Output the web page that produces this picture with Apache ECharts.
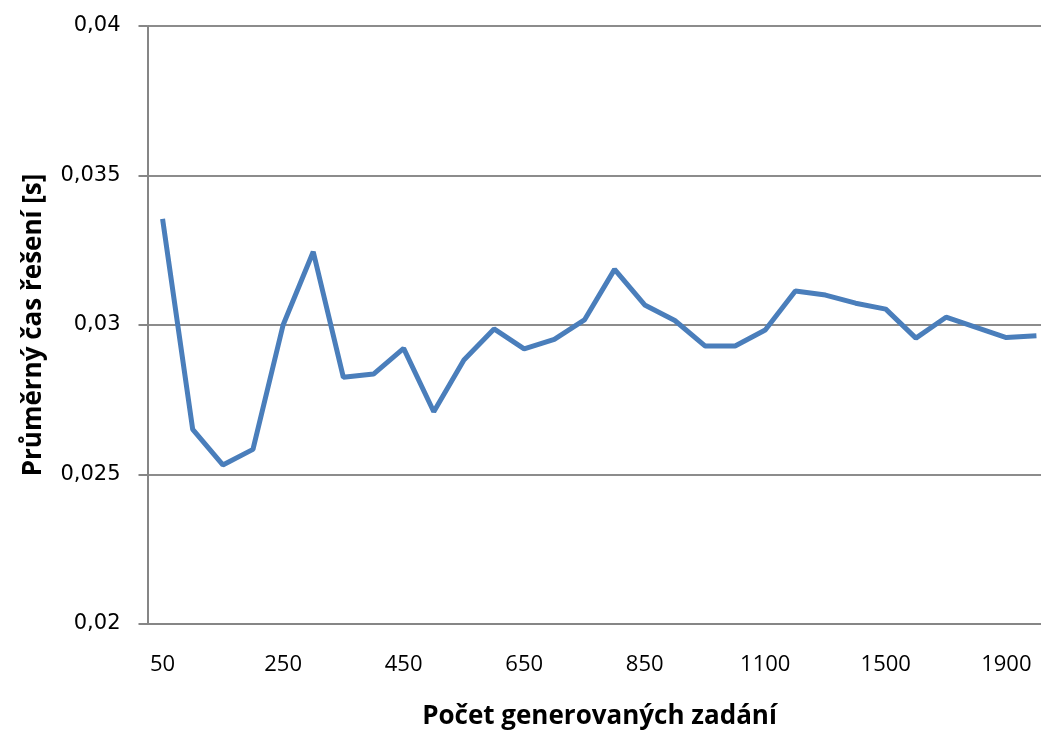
<!DOCTYPE html>
<html>
<head>
<meta charset="utf-8">
<script src="https://cdn.jsdelivr.net/npm/echarts@6/dist/echarts.min.js"></script>
<style>
  html, body { margin: 0; padding: 0; background: #fff; }
  #chart { width: 1041px; height: 736px; }
</style>
</head>
<body>
<div id="chart"></div>
<script>
// x categories: number of generated tasks
const counts = [
  50, 100, 150, 200, 250, 300, 350, 400, 450, 500,
  550, 600, 650, 700, 750, 800, 850, 900, 950, 1000,
  1100, 1200, 1300, 1400, 1500, 1600, 1700, 1800, 1900, 2000
];
// average solve time [s]
const avgTime = [
  0.03355, 0.02651, 0.02532, 0.02584, 0.0300, 0.03245, 0.02825, 0.02836, 0.02922, 0.0271,
  0.02883, 0.02987, 0.0292, 0.02952, 0.03017, 0.03186, 0.03067, 0.03015, 0.0293, 0.0293,
  0.02983, 0.03114, 0.0310, 0.03073, 0.03053, 0.02956, 0.03026, 0.02992, 0.02958, 0.02964
];
const yTicks = { min: 0.02, max: 0.04, step: 0.005 };

const myChart = echarts.init(document.getElementById('chart'));

const option = {
  animation: false,
  grid: {
    left: 147.5,
    width: 904,
    top: 26,
    bottom: 112,
    outerBoundsMode: 'none'
  },
  xAxis: {
    type: 'category',
    data: counts,
    boundaryGap: true,
    name: 'Počet generovaných zadání',
    nameLocation: 'middle',
    nameGap: 80,
    nameTextStyle: {
      fontFamily: 'Open Sans',
      fontWeight: 'bold',
      fontSize: 26,
      color: '#000'
    },
    axisLine: { lineStyle: { color: '#868686', width: 2 } },
    axisTick: { show: false },
    axisLabel: {
      interval: 3,
      margin: 30,
      fontFamily: 'Open Sans',
      fontSize: 22,
      color: '#000'
    },
    splitLine: { show: false }
  },
  yAxis: {
    type: 'value',
    min: yTicks.min,
    max: yTicks.max,
    interval: yTicks.step,
    name: 'Průměrný čas řešení [s]',
    nameLocation: 'middle',
    nameGap: 101,
    nameTextStyle: {
      fontFamily: 'Open Sans',
      fontWeight: 'bold',
      fontSize: 26,
      color: '#000'
    },
    axisLine: { show: true, lineStyle: { color: '#868686', width: 2 } },
    axisTick: { show: true, length: 9, lineStyle: { color: '#868686', width: 2 } },
    axisLabel: {
      margin: 27,
      fontFamily: 'DejaVu Sans',
      fontSize: 21,
      color: '#000',
      formatter: function (v) {
        return String(parseFloat(v.toFixed(4))).replace('.', ',');
      }
    },
    splitLine: { show: true, lineStyle: { color: '#8c8c8c', width: 2 } }
  },
  series: [
    {
      type: 'line',
      data: avgTime,
      symbol: 'none',
      lineStyle: { color: '#4a7ebb', width: 5 },
      itemStyle: { color: '#4a7ebb' }
    }
  ]
};

myChart.setOption(option);
</script>
</body>
</html>
